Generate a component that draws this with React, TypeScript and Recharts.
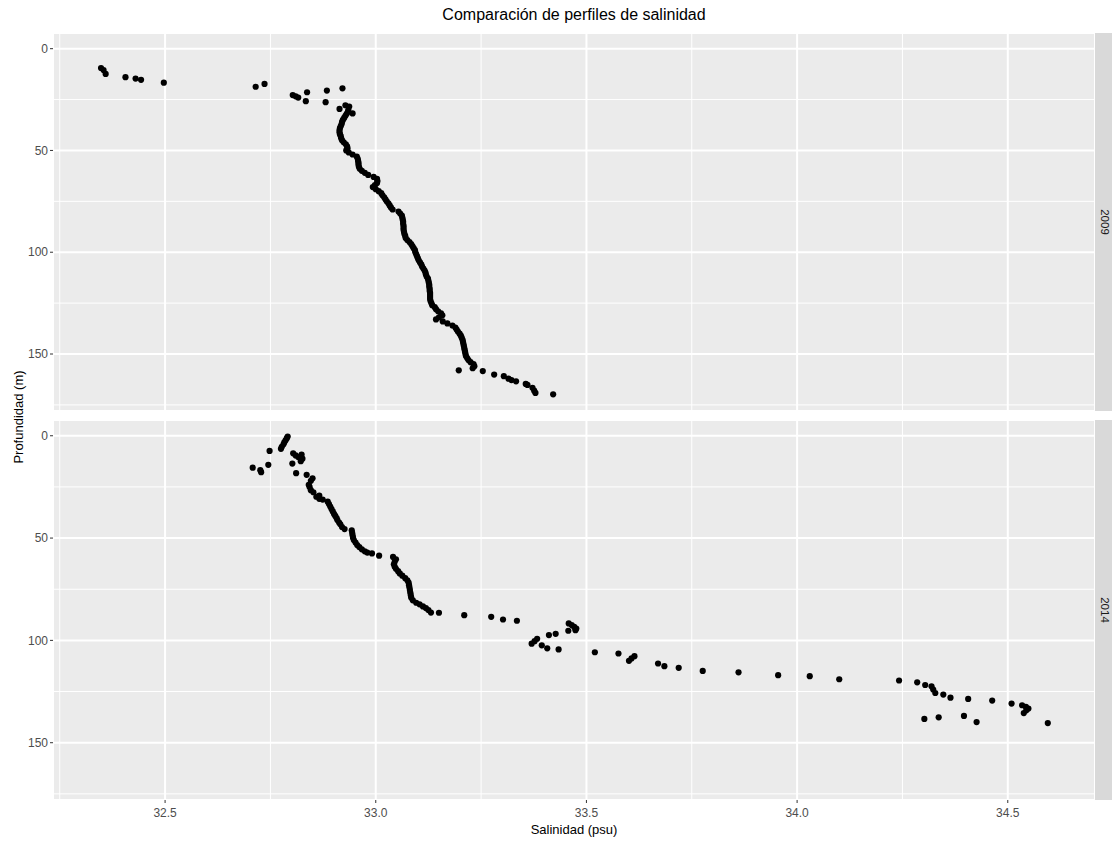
import { ScatterChart, Scatter, XAxis, YAxis, CartesianGrid } from 'recharts';

// 2009 profile: salinity (psu) and depth (m)
const salinity2009 = [
  32.348, 32.354, 32.359, 32.406, 32.430, 32.443, 32.497, 32.715, 32.736, 32.803,
  32.810, 32.816, 32.834, 32.837, 32.881, 32.884, 32.921, 32.914, 32.928, 32.937,
  32.945,
  32.935, 32.934, 32.931, 32.928, 32.925, 32.922, 32.920, 32.919, 32.917, 32.915,
  32.914, 32.914, 32.915, 32.917, 32.918, 32.920, 32.924, 32.929, 32.932, 32.933,
  32.930, 32.936, 32.945, 32.955, 32.957, 32.958, 32.959, 32.959, 32.960, 32.962,
  32.967, 32.974, 32.982, 32.995, 33.003, 33.004, 33.003, 32.998, 32.993, 33.000,
  33.007, 33.013, 33.016, 33.020, 33.023, 33.026, 33.030, 33.033, 33.036, 33.040,
  33.054, 33.058, 33.062, 33.063, 33.064, 33.065, 33.065, 33.066, 33.066, 33.066,
  33.067, 33.068, 33.070, 33.071, 33.075, 33.080, 33.084, 33.087, 33.090, 33.093,
  33.094, 33.096, 33.098, 33.100, 33.102, 33.105, 33.108, 33.110, 33.113, 33.116,
  33.118, 33.119, 33.121, 33.124, 33.125, 33.126, 33.127, 33.127, 33.128, 33.128,
  33.129, 33.129, 33.129, 33.129, 33.130, 33.132, 33.134, 33.140, 33.143, 33.148,
  33.155, 33.158, 33.150, 33.143, 33.159, 33.170, 33.182, 33.189, 33.192, 33.195,
  33.199, 33.202, 33.204, 33.206, 33.207, 33.208, 33.209, 33.210, 33.211, 33.212,
  33.213, 33.214, 33.217, 33.220, 33.225, 33.232, 33.234, 33.230,
  33.197, 33.254, 33.281, 33.304, 33.315, 33.322, 33.333, 33.356, 33.360, 33.372,
  33.376, 33.379, 33.421,
];
const depth2009 = [
  9.5, 10.5, 12.4, 14.0, 14.7, 15.3, 16.7, 18.7, 17.3, 22.8,
  23.4, 24.0, 25.8, 21.4, 26.3, 20.6, 19.5, 29.6, 27.8, 28.4,
  31.8,
  30, 31, 32, 33, 34, 35, 36, 37, 38, 39,
  40, 41, 42, 43, 44, 45, 46, 47, 48, 49,
  50, 51, 52, 53, 54, 55, 56, 57, 58, 59,
  60, 61, 62, 63, 64, 65, 66, 67, 68, 69,
  70, 71, 72, 73, 74, 75, 76, 77, 78, 79,
  80, 81, 82, 83, 84, 85, 86, 87, 88, 89,
  90, 91, 92, 93, 94, 95, 96, 97, 98, 99,
  100, 101, 102, 103, 104, 105, 106, 107, 108, 109,
  110, 111, 112, 113, 114, 115, 116, 117, 118, 119,
  120, 121, 122, 123, 124, 125, 126, 127, 128, 129,
  130, 131, 132, 133, 134, 135, 136, 137, 138, 139,
  140, 141, 142, 143, 144, 145, 146, 147, 148, 149,
  150, 151, 152, 153, 154, 155, 156, 157,
  158.0, 158.4, 160.1, 160.9, 162.1, 162.8, 163.4, 164.7, 165.2, 166.6,
  168.0, 169.1, 169.8,
];

// 2014 profile
const salinity2014 = [
  32.708, 32.726, 32.728, 32.745, 32.748, 32.775, 32.777, 32.781, 32.783, 32.786,
  32.789, 32.791, 32.802, 32.804, 32.810, 32.816, 32.822, 32.824, 32.826, 32.811,
  32.836, 32.846, 32.850, 32.841, 32.843, 32.846, 32.852, 32.859, 32.866, 32.866,
  32.874, 32.886, 32.889, 32.892, 32.895, 32.898, 32.901, 32.904, 32.907, 32.909,
  32.913, 32.916, 32.920, 32.926, 32.943, 32.944, 32.945, 32.946, 32.948, 32.952,
  32.956, 32.961, 32.967, 32.974, 32.980, 32.991, 33.008, 33.041, 33.048, 33.045,
  33.043, 33.045, 33.048, 33.053, 33.057, 33.063, 33.070, 33.075, 33.078, 33.079,
  33.080, 33.081, 33.082, 33.083, 33.084, 33.088, 33.096, 33.104, 33.112, 33.119,
  33.125, 33.131, 33.150, 33.210, 33.274, 33.302, 33.335, 33.370, 33.377, 33.383,
  33.394, 33.407, 33.411, 33.427, 33.434, 33.457, 33.458, 33.465, 33.471, 33.476,
  33.474, 33.520, 33.576, 33.601, 33.607, 33.614, 33.670, 33.685, 33.719, 33.776,
  33.861, 33.955, 34.030, 34.100, 34.242, 34.285, 34.304, 34.319, 34.323, 34.328,
  34.347, 34.364, 34.406, 34.463, 34.509, 34.534, 34.543, 34.549, 34.544, 34.538,
  34.302, 34.336, 34.396, 34.426, 34.595,
];
const depth2014 = [
  15.6, 16.8, 17.8, 14.2, 7.4, 6.4, 5.4, 4.2, 3.2, 2.2,
  1.2, 0.4, 13.6, 8.6, 9.6, 10.4, 12.4, 9.2, 11.2, 18.3,
  19.1, 22.0, 20.8, 24.0, 25.0, 26.6, 27.6, 29.8, 30.8, 29.2,
  31.2, 32.2, 33.4, 34.6, 35.8, 37.0, 38.2, 39.2, 40.2, 41.2,
  42.4, 43.3, 44.6, 45.6, 46.2, 47.4, 48.6, 49.8, 51.0, 52.2,
  53.4, 54.4, 55.5, 56.5, 57.1, 57.5, 58.6, 59.2, 60.4, 61.6,
  62.8, 64.0, 65.0, 66.2, 67.3, 68.4, 69.6, 70.6, 71.8, 73.0,
  74.2, 75.4, 76.6, 77.8, 79.0, 80.4, 81.6, 82.4, 83.4, 84.2,
  85.2, 86.4, 86.5, 87.7, 88.5, 89.8, 90.4, 101.6, 100.4, 99.2,
  102.4, 103.9, 97.4, 96.8, 104.4, 95.3, 91.7, 92.5, 93.4, 94.2,
  95.0, 105.8, 106.4, 110.0, 108.8, 107.7, 111.3, 112.6, 113.4, 114.9,
  115.6, 117.0, 117.5, 119.0, 119.6, 120.5, 121.8, 122.4, 124.0, 125.7,
  126.5, 128.0, 128.6, 129.4, 130.9, 131.7, 132.5, 133.3, 134.2, 135.5,
  138.4, 137.6, 136.9, 139.9, 140.4,
];

const xMajorTicks = [32.5, 33.0, 33.5, 34.0, 34.5];
const xMinorTicks = [32.25, 32.75, 33.25, 33.75, 34.25];
const yMajorTicks = [0, 50, 100, 150];
const yMinorTicks = [25, 75, 125, 175];
const xDomain = [32.234, 34.707];
const yDomain = [-7.7, 178];

const data2009 = salinity2009.map((s, i) => ({ sal: s, depth: depth2009[i] }));
const data2014 = salinity2014.map((s, i) => ({ sal: s, depth: depth2014[i] }));

const FONT = "Arial, 'Liberation Sans', sans-serif";
const tickStyle = { fill: '#4D4D4D', fontSize: 12, fontFamily: FONT };

const Dot = (props: any) => <circle cx={props.cx} cy={props.cy} r={3.1} fill="#000" />;

function Panel({ data, label, top, height, showX }: { data: any[]; label: string; top: number; height: number; showX: boolean }) {
  const xAxisH = showX ? 26 : 0;
  return (
    <div style={{ position: 'absolute', left: 0, top }}>
      <ScatterChart width={1095} height={height + xAxisH} margin={{ top: 0, right: 0, bottom: 0, left: 0 }}>
        <XAxis
          type="number"
          dataKey="sal"
          domain={xDomain}
          allowDataOverflow
          ticks={xMajorTicks}
          tickFormatter={(v: number) => v.toFixed(1)}
          axisLine={false}
          tickLine={{ stroke: '#333333' }}
          tickSize={3}
          tickMargin={5}
          tick={tickStyle}
          height={xAxisH}
          hide={!showX}
        />
        <YAxis
          type="number"
          dataKey="depth"
          domain={yDomain}
          allowDataOverflow
          reversed
          ticks={yMajorTicks}
          axisLine={false}
          tickLine={{ stroke: '#333333' }}
          tickSize={3}
          tickMargin={2}
          tick={tickStyle}
          width={53}
        />
        <XAxis xAxisId="minor" type="number" dataKey="sal" domain={xDomain} allowDataOverflow ticks={xMinorTicks} hide />
        <YAxis yAxisId="minor" type="number" dataKey="depth" domain={yDomain} allowDataOverflow reversed ticks={yMinorTicks} hide />
        <CartesianGrid fill="#EBEBEB" stroke="#FFFFFF" strokeWidth={2} />
        <CartesianGrid xAxisId="minor" yAxisId="minor" stroke="#FFFFFF" strokeWidth={1} />
        <Scatter data={data} fill="#000" shape={Dot} isAnimationActive={false} />
      </ScatterChart>
      <div
        style={{
          position: 'absolute',
          left: 1095,
          top: 0,
          width: 17,
          height,
          background: '#D9D9D9',
          overflow: 'hidden',
        }}
      >
        <div
          style={{
            position: 'absolute',
            left: 10,
            top: height / 2,
            transform: 'translate(-50%, -50%) rotate(90deg)',
            fontFamily: FONT,
            fontSize: 11.5,
            color: '#1A1A1A',
            whiteSpace: 'nowrap',
          }}
        >
          {label}
        </div>
      </div>
    </div>
  );
}

export default function App() {
  return (
    <div style={{ position: 'absolute', left: 0, top: 0, width: 1112, height: 843, background: '#fff', fontFamily: FONT }}>
      <div style={{ position: 'absolute', left: 53, width: 1042, top: 6, textAlign: 'center', fontSize: 16, color: '#000' }}>
        Comparación de perfiles de salinidad
      </div>
      <Panel data={data2009} label="2009" top={33} height={378} showX={false} />
      <Panel data={data2014} label="2014" top={420} height={380} showX />
      <div style={{ position: 'absolute', left: 53, width: 1042, top: 822, textAlign: 'center', fontSize: 13, color: '#000' }}>
        Salinidad (psu)
      </div>
      <div
        style={{
          position: 'absolute',
          left: 18,
          top: 417,
          transform: 'translate(-50%, -50%) rotate(-90deg)',
          fontSize: 13,
          color: '#000',
          whiteSpace: 'nowrap',
        }}
      >
        Profundidad (m)
      </div>
    </div>
  );
}
